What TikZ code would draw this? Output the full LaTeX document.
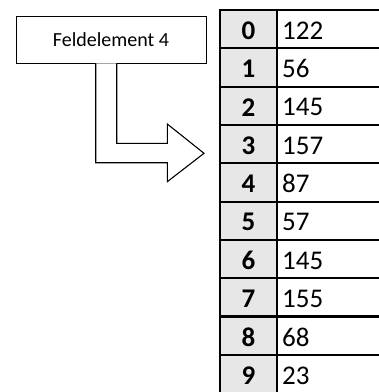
\documentclass[tikz,border=0pt]{standalone}
\usepackage{fontspec}
\setmainfont{Carlito}
\definecolor{idxgray}{HTML}{E7E7E7}
\begin{document}
\begin{tikzpicture}[x=1pt,y=-1pt,
  srcbox/.style={draw=black,line width=0.9pt,minimum width=190pt,minimum height=46.6pt,inner sep=0pt,font=\fontsize{20}{22}\selectfont},
  idxtext/.style={font=\bfseries\fontsize{27}{29}\selectfont,anchor=center,inner sep=0pt},
  valtext/.style={font=\fontsize{27}{29}\selectfont,anchor=west,inner sep=0pt},
  grid/.style={line width=2.3pt,draw=black},
  bigarrow/.style={draw=black,line width=1.1pt,fill=white,line join=miter}]
\useasboundingbox (0,0) rectangle (379,392);
\clip (0,0) rectangle (379,392);
% index column fill
\fill[idxgray] (220,10) rectangle (277,400);
% grid
\foreach \i in {0,...,10}{
  \draw[grid] (219,{10+38.33*\i}) -- (385,{10+38.33*\i});
}
\draw[grid] (220,9) -- (220,400);
\draw[grid] (277,9) -- (277,400);
% cell texts
\foreach \v [count=\i from 0] in {122,56,145,157,87,57,145,155,68,23}{
  \node[idxtext] (i\i) at (248.5,{10+38.33*\i+20.5}) {\i};
  \node[valtext] (v\i) at (282,{10+38.33*\i+20.5}) {\v};
}
% source box
\node[srcbox] (src) at (111,40) {Feldelement 4};
% block arrow
\draw[bigarrow] (95.7,63.3) -- (95.7,162.7) -- (167.3,162.7) -- (167.3,181.7)
  -- (204,153.3) -- (167.3,124) -- (167.3,143.3) -- (116.7,143.3) -- (116.7,63.3);
\end{tikzpicture}
\end{document}
